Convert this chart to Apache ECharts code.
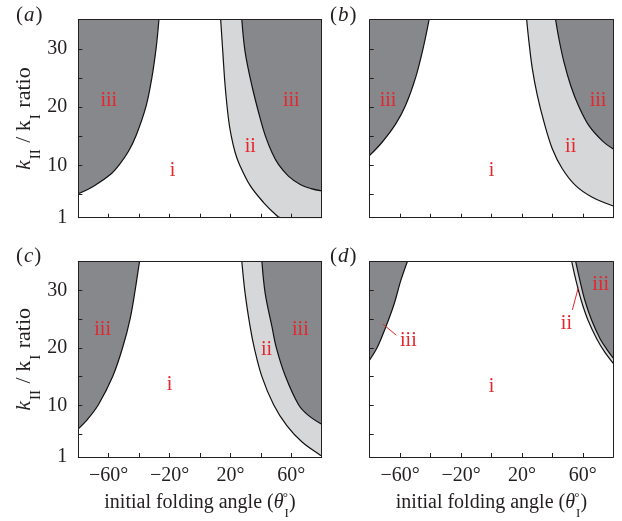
<!DOCTYPE html>
<html>
<head>
<meta charset="utf-8">
<script src="https://cdn.jsdelivr.net/npm/echarts@6.0.0/dist/echarts.min.js"></script>
<style>
html, body { margin: 0; padding: 0; background: #fff; }
#main { width: 622px; height: 521px; }
</style>
</head>
<body>
<div id="main"></div>
<script>
// axis ticks / labels
var xTicks = [-80, -60, -40, -20, 0, 20, 40, 60, 80];
var xTickLabels = [-60, -20, 20, 60];
var yTicks = [1, 5, 10, 15, 20, 25, 30];
var yTickLabels = [1, 10, 20, 30];

// boundary curves [angle, kII/kI]
// (a)
var aIiiLeft = [[-80, 5.1], [-69.4, 6.5], [-58.5, 8.5], [-53.0, 10.1], [-47.0, 12.4], [-42.0, 15.1], [-35.4, 20.2], [-31.6, 25.1], [-28.8, 30.2], [-27.0, 35]];
var aIi = [[13.6, 35], [15.0, 29.4], [16.5, 23.7], [18.7, 18.0], [20.5, 15.1], [23.1, 12.2], [26.0, 10.1], [33.0, 6.5], [41.8, 3.6], [49.5, 1.6], [52.8, 1.0], [80, 1.0]];
var aIiiRight = [[27.5, 35], [29.7, 29.4], [34.1, 23.7], [39.6, 18.0], [42.9, 15.1], [47.3, 12.2], [51.7, 10.1], [58.3, 8.1], [65.9, 6.7], [73.0, 6.0], [80, 5.6]];
// (b)
var bIiiLeft = [[-80, 11.7], [-71.7, 14.0], [-62.9, 17.1], [-56.4, 20.3], [-49.8, 25.1], [-44.8, 30.2], [-41.0, 35]];
var bIi = [[23.1, 35], [24.6, 31.2], [26.8, 26.6], [30.1, 22.0], [34.5, 17.4], [40.0, 12.8], [46.5, 9.4], [55.3, 6.5], [66.2, 4.5], [80, 3.0]];
var bIiiRight = [[42.1, 35], [44.3, 31.7], [47.6, 27.7], [52.0, 23.7], [57.5, 20.0], [64.0, 16.8], [72.8, 14.2], [80, 12.8]];
// (c)
var cIiiLeft = [[-80, 5.9], [-73.8, 7.6], [-66.8, 10.1], [-57.4, 15.0], [-50.8, 20.1], [-45.9, 25.1], [-42.6, 30.1], [-39.8, 35]];
var cIi = [[27.5, 35], [29.7, 29.4], [33.0, 23.6], [35.6, 20.1], [40.7, 15.0], [48.4, 10.1], [57.2, 6.4], [67.1, 3.6], [79.1, 1.3], [80, 1.2]];
var cIiiRight = [[40.7, 35], [42.9, 29.4], [47.3, 23.7], [50.1, 20.1], [56.1, 15.1], [64.8, 10.1], [71.4, 8.2], [80, 6.7]];
// (d)
var dIiiLeft = [[-80, 17.9], [-75.0, 20.1], [-69.5, 23.6], [-64.0, 27.6], [-59.6, 31.7], [-55.3, 35]];
var dIi = [[52.7, 35], [55.5, 31.7], [59.0, 28.2], [63.4, 24.8], [69.1, 21.6], [74.3, 19.3], [80, 17.3]];
var dIiiRight = [[55.3, 35], [58.1, 31.7], [61.4, 28.2], [65.8, 24.8], [71.3, 21.6], [76.1, 19.6], [80, 18.2]];

var myChart = echarts.init(document.getElementById('main'));

var FONT = '"Liberation Serif", "DejaVu Serif", serif';
var INK = '#231f20';
var RED = '#e5262c';
var DARK = '#87888c';
var LIGHT = '#d6d7d9';

var panels = [
  { letter: 'a', iiiL: aIiiLeft, ii: aIi, iiiR: aIiiRight, xLab: false, yLab: true,
    grid: { left: 78.3, top: 19.7, width: 243.4, height: 198 }, tag: [16, 5],
    texts: [['iii', -60, 21], ['iii', 60, 21], ['ii', 33, 13.2], ['i', -18, 9.1]] },
  { letter: 'b', iiiL: bIiiLeft, ii: bIi, iiiR: bIiiRight, xLab: false, yLab: false,
    grid: { left: 369.7, top: 19.7, width: 243.6, height: 198 }, tag: [330, 5],
    texts: [['iii', -68, 21], ['iii', 70, 21], ['ii', 52, 13.2], ['i', 0, 9.1]] },
  { letter: 'c', iiiL: cIiiLeft, ii: cIi, iiiR: cIiiRight, xLab: true, yLab: true,
    grid: { left: 78.3, top: 261.7, width: 243.4, height: 197.6 }, tag: [16, 246],
    texts: [['iii', -64, 23.1], ['iii', 66, 23.1], ['ii', 43.7, 19.6], ['i', -20, 13.6]] },
  { letter: 'd', iiiL: dIiiLeft, ii: dIi, iiiR: dIiiRight, xLab: true, yLab: false,
    grid: { left: 369.7, top: 261.7, width: 243.6, height: 197.6 }, tag: [330, 246],
    texts: [['iii', 71.7, 31], ['ii', 49.2, 24.2], ['iii', -54.6, 21.3], ['i', 0, 13.3]],
    leaders: [[[-71.2, 24.1], [-62.5, 22.2]], [[57.0, 30.5], [53.1, 26.6]]] }
];

function fmtDeg(v) {
  return (v < 0 ? '\u2212' + Math.abs(v) : v) + '°';
}

var grids = [], xAxes = [], yAxes = [], series = [], graphics = [];

panels.forEach(function(p, i) {
  grids.push(Object.assign({ containLabel: false }, p.grid));
  // main bottom / left axes
  xAxes.push({
    type: 'value', gridIndex: i, min: -80, max: 80, z: 10,
    axisLine: { show: true, onZero: false, lineStyle: { color: INK, width: 1 } },
    axisTick: { show: true, inside: true, length: 4, customValues: xTicks, lineStyle: { color: INK } },
    axisLabel: { show: p.xLab, customValues: xTickLabels, formatter: fmtDeg, margin: 9,
      fontFamily: FONT, fontSize: 20, color: INK },
    splitLine: { show: false },
    name: p.xLab ? '{n|initial folding angle (}{it|θ}{sub|I}{sup|°}{n|)}' : '',
    nameLocation: 'middle', nameGap: 34,
    nameTextStyle: {
      fontFamily: FONT, fontSize: 20, color: INK,
      rich: {
        n: { fontFamily: FONT, fontSize: 20, color: INK, lineHeight: 24 },
        it: { fontFamily: FONT, fontSize: 20, fontStyle: 'italic', color: INK, lineHeight: 24 },
        sub: { fontFamily: FONT, fontSize: 13, color: INK, verticalAlign: 'bottom', lineHeight: 16, padding: [0, 0, -5, 1] },
        sup: { fontFamily: FONT, fontSize: 13, color: INK, verticalAlign: 'top', lineHeight: 14, padding: [0, 1, 0, -6] }
      }
    }
  });
  // top frame line
  xAxes.push({
    type: 'value', gridIndex: i, min: -80, max: 80, position: 'top', z: 10,
    axisLine: { show: true, onZero: false, lineStyle: { color: INK, width: 1 } },
    axisTick: { show: false }, axisLabel: { show: false }, splitLine: { show: false }
  });
  yAxes.push({
    type: 'value', gridIndex: i, min: 1, max: 35, z: 10,
    axisLine: { show: true, onZero: false, lineStyle: { color: INK, width: 1 } },
    axisTick: { show: true, inside: true, length: 4, customValues: yTicks, lineStyle: { color: INK } },
    axisLabel: { show: p.yLab, customValues: yTickLabels, margin: 11,
      fontFamily: FONT, fontSize: 20, color: INK },
    splitLine: { show: false },
    name: p.yLab ? '{it|k}{sub|II}{n| / k}{sub|I}{n| ratio}' : '',
    nameLocation: 'middle', nameRotate: 90, nameGap: 40,
    nameTextStyle: {
      fontFamily: FONT, fontSize: 22, color: INK,
      rich: {
        n: { fontFamily: FONT, fontSize: 22, color: INK, lineHeight: 26 },
        it: { fontFamily: FONT, fontSize: 22, fontStyle: 'italic', color: INK, lineHeight: 26 },
        sub: { fontFamily: FONT, fontSize: 15, color: INK, verticalAlign: 'bottom', lineHeight: 18, padding: [0, 1, -6, 1] }
      }
    }
  });
  // right frame line
  yAxes.push({
    type: 'value', gridIndex: i, min: 1, max: 35, position: 'right', z: 10,
    axisLine: { show: true, onZero: false, lineStyle: { color: INK, width: 1 } },
    axisTick: { show: false }, axisLabel: { show: false }, splitLine: { show: false }
  });

  var xi = i * 2, yi = i * 2;
  function region(data, color) {
    return {
      type: 'line', xAxisIndex: xi, yAxisIndex: yi, data: data,
      smooth: 0.35, symbol: 'none', silent: true,
      lineStyle: { color: '#111', width: 1.2 },
      areaStyle: { origin: 'end', color: color, opacity: 1 }
    };
  }
  var sL = region(p.iiiL, DARK);
  var sII = region(p.ii, LIGHT);
  var sR = region(p.iiiR, DARK);
  sR.markPoint = {
    symbol: 'circle', symbolSize: 0, silent: true,
    label: { show: true, position: 'inside', formatter: '{b}', fontFamily: FONT, fontSize: 20, color: RED },
    data: p.texts.map(function(t) { return { name: t[0], coord: [t[1], t[2]] }; })
  };
  if (p.leaders) {
    sR.markLine = {
      symbol: ['none', 'none'], silent: true, animation: false,
      label: { show: false },
      lineStyle: { color: RED, width: 1, type: 'solid' },
      data: p.leaders.map(function(l) { return [{ coord: l[0] }, { coord: l[1] }]; })
    };
  }
  series.push(sL, sII, sR);

  graphics.push({
    type: 'text',
    left: p.tag[0],
    top: p.tag[1],
    style: {
      text: '{n|(}{it|' + p.letter + '}{n|)}',
      rich: {
        n: { fontFamily: FONT, fontSize: 21, fill: INK },
        it: { fontFamily: FONT, fontSize: 21, fontStyle: 'italic', fill: INK, padding: [0, 1, 0, 1] }
      }
    }
  });
});

var option = {
  backgroundColor: '#fff',
  animation: false,
  grid: grids,
  xAxis: xAxes,
  yAxis: yAxes,
  series: series,
  graphic: graphics
};
myChart.setOption(option);
</script>
</body>
</html>
